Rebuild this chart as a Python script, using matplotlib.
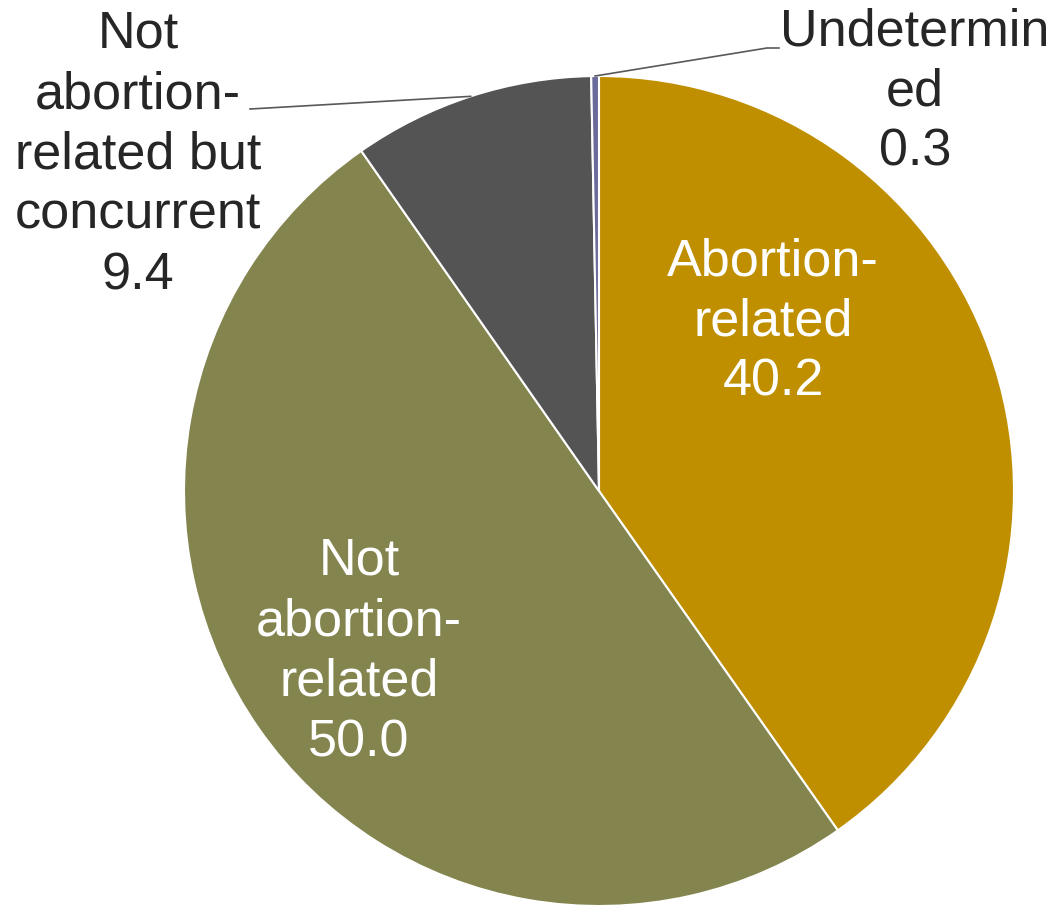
import numpy as np
import matplotlib.pyplot as plt

# share of deaths by classification (%)
labels = ["Abortion-\nrelated", "Not\nabortion-\nrelated",
          "Not\nabortion-\nrelated but\nconcurrent", "Undetermin\ned"]
values = [40.2, 50.0, 9.4, 0.3]
colors = ["#BF8F00", "#83844E", "#545454", "#6B6B9B"]

plt.rcParams['font.family'] = ['Liberation Sans', 'DejaVu Sans']

W, H = 1059, 905
fig = plt.figure(figsize=(W / 100, H / 100), dpi=100)
ax = fig.add_axes([0, 0, 1, 1])

cx, cy, r = 599, H - 491, 415
wedges, _ = ax.pie(values, colors=colors, startangle=90, counterclock=False,
                   center=(cx, cy), radius=r, frame=True,
                   wedgeprops=dict(edgecolor='white', linewidth=1.5))
ax.set_xlim(0, W)
ax.set_ylim(0, H)
ax.set_aspect('equal')
ax.axis('off')

# label text positions in pixels from top-left
inside = [(773, 322), (359, 652)]
outside = [(138, 155), (915, 92)]
fs = 37.5
ls = 1.3

for i, (x, y) in enumerate(inside):
    ax.text(x, H - y, f"{labels[i]}\n{values[i]:.1f}", ha='center', va='center',
            color='white', fontsize=fs, linespacing=ls)

txtc = "#262626"
elbow = [((250, 109), None), ((779, 48), (767, 48))]
for k, (x, y) in enumerate(outside):
    i = 2 + k
    ax.text(x, H - y, f"{labels[i]}\n{values[i]:.1f}", ha='center', va='center',
            color=txtc, fontsize=fs, linespacing=ls)
    # leader line from the middle of the wedge's arc
    w = wedges[i]
    mid = np.deg2rad((w.theta1 + w.theta2) / 2)
    px, py = cx + r * np.cos(mid), cy + r * np.sin(mid)
    end, bend = elbow[k]
    xs, ys = [px], [py]
    if bend is not None:
        xs.append(bend[0])
        ys.append(H - bend[1])
    xs.append(end[0])
    ys.append(H - end[1])
    ax.plot(xs, ys, color="#595959", linewidth=1.2)

fig.savefig("out.png", dpi=100)
